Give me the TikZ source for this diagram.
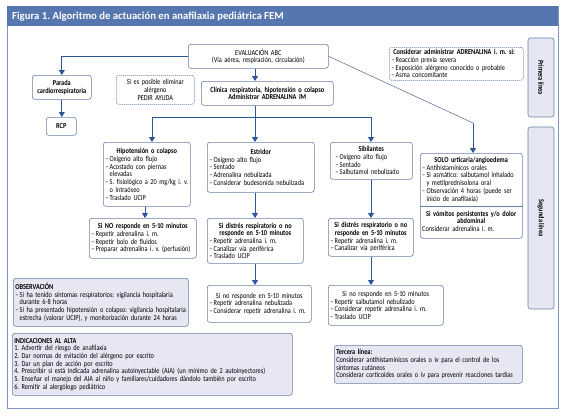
\documentclass[tikz,border=0pt]{standalone}
\usepackage{fontspec}
\setmainfont{Carlito}[FakeStretch=0.83]
\newfontfamily\titlefont{Carlito}
\usetikzlibrary{arrows.meta,calc}
\definecolor{bordc}{HTML}{6B7FA8}
\definecolor{lavc}{HTML}{E6E7F3}
\definecolor{arrc}{HTML}{2D5599}
\definecolor{titc}{HTML}{5676B0}
\definecolor{framec}{HTML}{7D96C4}
\newcommand\hd[1]{{\centering\bfseries #1\par}}
\newcommand\dl{\makebox[4.4pt][l]{–}}
\newcommand\ind{\hspace*{4.4pt}}
\newcommand\fs{\fontsize{7.6}{7.7}\selectfont\frenchspacing\hyphenpenalty=10000}
\frenchspacing
\begin{document}
\begin{tikzpicture}[x=1pt,y=-1pt,
  box/.style={draw=bordc, line width=0.6pt, rounded corners=2.5pt, fill=white,
    inner sep=2pt, align=left, anchor=north west, font=\fs},
  lav/.style={box, fill=lavc},
  dbox/.style={box, dash pattern=on 1.2pt off 0.8pt},
  txt/.style={inner sep=2pt, align=left, anchor=north west, font=\fs},
  side/.style={draw=bordc, line width=0.6pt, rounded corners=2.5pt, fill=lavc,
    font=\fs\bfseries, rotate=-90, inner sep=0pt},
  ln/.style={draw=arrc, line width=0.8pt},
  arr/.style={ln, -{Triangle[width=6pt,length=5pt]}},
  thin/.style={draw=bordc!80!black, line width=0.5pt}
]
\fill[white] (0,0) rectangle (566,418);
\useasboundingbox (0,0) rectangle (566,418);
% frame and title
\draw[framec, line width=0.8pt] (7,6) rectangle (558,408);
\fill[titc] (7,6) rectangle (558,26);
\node[anchor=west, text=white, font=\titlefont\fontsize{10.7}{12}\selectfont\bfseries, inner sep=0pt] (title) at (12,16.5) {Figura 1. Algoritmo de actuación en anafilaxia pediátrica FEM};

% top row
\node[box, align=center, text width=136, minimum height=24] (eval) at (188,44) {EVALUACIÓN ABC\\(Vía aérea, respiración, circulación)};
\node[box, align=center, text width=128, minimum height=24, font=\fs\bfseries] (clin) at (201,81) {Clínica respiratoria, hipotensión o colapso\\Administrar ADRENALINA IM};
\node[box, align=center, text width=55, minimum height=24, font=\fs\bfseries] (parada) at (32,75) {Parada\\cardiorrespiratoria};
\node[box, align=center, text width=26, minimum height=18, font=\fs\bfseries] (rcp) at (46,117) {RCP};
\node[dbox, align=center, text width=74, minimum height=29] (pedir) at (116,75) {Si es posible eliminar\\alérgeno\\PEDIR AYUDA};
\node[dbox, text width=130, minimum height=33] (cons) at (389,47) {\hspace*{2pt}\textbf{Considerar administrar ADRENALINA i. m. si:}\\\dl Reacción previa severa\\\dl Exposición alérgeno conocido o probable\\\dl Asma concomitante};

% side labels
\node[side, minimum width=79, minimum height=26] (prim) at (541,77.5) {Primera línea};
\node[side, minimum width=182, minimum height=26] (seg) at (541,218) {Segunda línea};

% second row
\node[box, text width=83, minimum height=64] (hipo) at (103,142) {\hd{Hipotensión o colapso}\dl Oxígeno alto flujo\\\dl Acostado con piernas\\\ind elevadas\\\dl S. fisiológico a 20 mg/kg i. v.\\\ind o intraóseo\\\dl Traslado UCIP};
\node[box, text width=103, minimum height=50] (estr) at (207,142) {\hd{Estridor}\dl Oxígeno alto flujo\\\dl Sentado\\\dl Adrenalina nebulizada\\\dl Considerar budesonida nebulizada};
\node[box, text width=78, minimum height=37] (sib) at (330,142) {\hd{Sibilantes}\hspace*{3pt}\dl Oxígeno alto flujo\\\hspace*{3pt}\dl Sentado\\\hspace*{3pt}\dl Salbutamol nebulizado};
\node[box, text width=98, minimum height=85] (solo) at (420,153) {};
\node[txt, text width=98] (soloA) at (420,155) {\hd{SOLO urticaria/angioedema}\dl Antihistamínicos orales\\\dl Si asmático: salbutamol inhalado\\\ind y metilprednisolona oral\\\dl Observación 4 horas (puede ser\\\ind inicio de anafilaxia)};
\coordinate (div) at (420,206);
\draw[draw=bordc, line width=0.6pt] (div) -- (div -| solo.east);
\node[txt, text width=98] (soloB) at (420,208.5) {\hd{Si vómitos persistentes y/o dolor\\abdominal}Considerar adrenalina i. m.};

% third row
\node[box, text width=103, minimum height=40] (sino) at (89,218) {\hd{Si NO responde en 5-10 minutos}\dl Repetir adrenalina i. m.\\\dl Repetir bolo de fluidos\\\dl Preparar adrenalina i. v. (perfusión)};
\node[box, text width=92, minimum height=45] (dis1) at (207,218) {\hd{Si distrés respiratorio o no\\responde en 5-10 minutos}\dl Repetir adrenalina i. m.\\\dl Canalizar vía periférica\\\dl Traslado UCIP};
\node[box, text width=81, minimum height=38] (dis2) at (328,218) {\hd{Si distrés respiratorio o no\\responde en 5-10 minutos}\dl Repetir adrenalina i. m.\\\dl Canalizar vía periférica};

% fourth row
\node[box, text width=100, minimum height=37] (nr1) at (207,285) {\hd{\mdseries Si no responde en 5-10 minutos}\dl Repetir adrenalina nebulizada\\\dl Considerar repetir adrenalina i. m.};
\node[box, text width=111, minimum height=40] (nr2) at (328,285) {\hd{\mdseries Si no responde en 5-10 minutos}\dl Repetir salbutamol nebulizado\\\dl Considerar repetir adrenalina i. m.\\\dl Traslado UCIP};

% bottom boxes
\node[lav, text width=171, minimum height=48] (obs) at (13,278) {\textbf{OBSERVACIÓN}\\\dl Si ha tenido síntomas respiratorios: vigilancia hospitalaria\\\ind durante 6-8 horas\\\dl Si ha presentado hipotensión o colapso: vigilancia hospitalaria\\\ind estrecha (valorar UCIP), y monitorización durante 24 horas};
\node[lav, text width=276, minimum height=62] (alta) at (12,333) {\textbf{INDICACIONES AL ALTA}\\1. Advertir del riesgo de anafilaxia\\2. Dar normas de evitación del alérgeno por escrito\\3. Dar un plan de acción por escrito\\4. Prescribir si está indicada adrenalina autoinyectable (AIA) (un mínimo de 2 autoinyectores)\\5. Enseñar el manejo del AIA al niño y familiares/cuidadores dándolo también por escrito\\6. Remitir al alergólogo pediátrico};
\node[lav, text width=184, minimum height=38] (terc) at (334,345) {\textbf{Tercera línea:}\\Considerar antihistamínicos orales o iv para el control de los\\síntomas cutáneos\\Considerar corticoides orales o iv para prevenir reacciones tardías};

% connectors
\coordinate (spine) at (255,117);
\coordinate (bL) at (152,117);
\coordinate (bR) at (371,117);
\coordinate (diag) at (473,123);
\draw[arr] (eval.west) -| (parada.north);
\draw[arr] (parada.south) -- (rcp.north -| parada.south);
\draw[arr] (eval.south -| spine) -- (clin.north -| spine);
\draw[ln] (clin.south -| spine) -- (spine);
\draw[ln] (bL) -- (bR);
\draw[arr] (bL) -- (hipo.north -| bL);
\draw[arr] (spine) -- (estr.north -| spine);
\draw[arr] (bR) -- (sib.north -| bR);
\draw[thin] (eval.east) -- (diag);
\draw[arr] (diag) -- (solo.north -| diag);
\draw[arr] (hipo.south -| 145,0) -- (sino.north -| 145,0);
\draw[arr] (estr.south -| spine) -- (dis1.north -| spine);
\draw[arr] (sib.south -| bR) -- (dis2.north -| bR);
\draw[arr] (dis1.south -| spine) -- (nr1.north -| spine);
\draw[arr] (dis2.south -| bR) -- (nr2.north -| bR);
\end{tikzpicture}
\end{document}
